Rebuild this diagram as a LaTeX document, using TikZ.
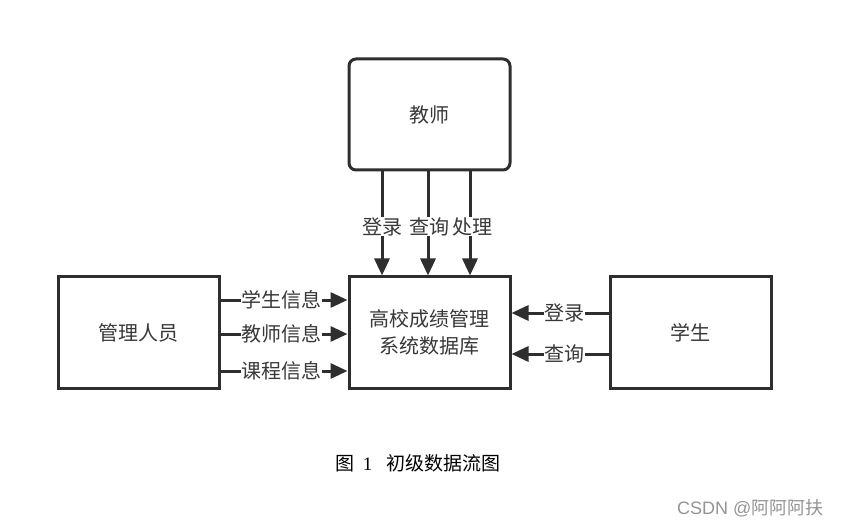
\documentclass[tikz,border=0pt]{standalone}
\usepackage{fontspec}
\setmainfont{Noto Sans CJK SC}
\newfontfamily\arialfont{Liberation Sans}
\newfontfamily\serifnum{Liberation Serif}
\usetikzlibrary{arrows.meta,calc}
\definecolor{ln}{HTML}{2E2E2E}
\definecolor{tx}{HTML}{383838}
\tikzset{
  box/.style={draw=ln, line width=3pt, minimum width=161pt, minimum height=111pt, inner sep=0pt, text=tx, font=\fontsize{20}{27}\selectfont, align=center},
  flow/.style={draw=ln, line width=3pt, -{Triangle[length=17pt,width=15pt]}},
  lbl/.style={fill=white, inner sep=0.5pt, text=tx, font=\fontsize{20}{22}\selectfont}
}
\begin{document}
\begin{tikzpicture}[x=1pt,y=-1pt]
\useasboundingbox (0,0) rectangle (842,526);
\fill[white] (0,0) rectangle (842,526);
\node[box, rounded corners=7pt] (teacher) at (429.5,114.5) {教师};
\node[box] (db) at (429.5,332.5) {高校成绩管理\\系统数据库};
\node[box] (admin) at (138.5,332.5) {管理人员};
\node[box] (student) at (690.5,332.5) {学生};
% teacher -> db
\draw[flow] ([xshift=-47.5pt]teacher.south) -- node[lbl, yshift=-3pt]{登录} ([xshift=-47.5pt]db.north);
\draw[flow] ([xshift=-1.5pt]teacher.south) -- node[lbl, xshift=1pt, yshift=-3pt]{查询} ([xshift=-1.5pt]db.north);
\draw[flow] ([xshift=40.5pt]teacher.south) -- node[lbl, xshift=2pt, yshift=-3pt]{处理} ([xshift=40.5pt]db.north);
% admin -> db
\draw[flow] ([yshift=32.5pt]admin.east) -- node[lbl, xshift=-3pt]{学生信息} ([yshift=32.5pt]db.west);
\draw[flow] ([yshift=-1.5pt]admin.east) -- node[lbl, xshift=-3pt]{教师信息} ([yshift=-1.5pt]db.west);
\draw[flow] ([yshift=-38.5pt]admin.east) -- node[lbl, xshift=-3pt]{课程信息} ([yshift=-38.5pt]db.west);
% student -> db
\draw[flow] ([yshift=19.5pt]student.west) -- node[lbl, xshift=4pt]{登录} ([yshift=19.5pt]db.east);
\draw[flow] ([yshift=-21.5pt]student.west) -- node[lbl, xshift=4pt]{查询} ([yshift=-21.5pt]db.east);
% caption
\node[text=black, font=\fontsize{19}{21}\selectfont] (cap) at (418,463) {图\hspace{8pt}{\serifnum 1}\hspace{14pt}初级数据流图};
\node[text=black!42, font=\fontsize{18}{20}\selectfont, anchor=east] (wm) at (827,508) {{\arialfont CSDN @}阿阿阿扶};
\end{tikzpicture}
\end{document}
